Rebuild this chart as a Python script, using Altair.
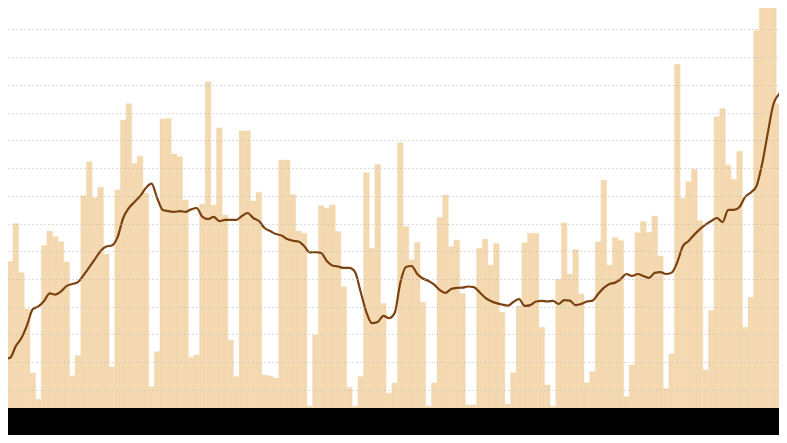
import altair as alt
import pandas as pd

# Daily values (one bar per day); gridlines every 10 units
daily = [
    90.7, 56.3, 70.0, 52.3, 39.2, 16.1, 6.6, 62.1, 67.2, 65.2,
    63.4, 56.2, 15.1, 22.4, 80.0, 92.3, 79.3, 83.1, 59.0, 18.3,
    82.1, 107.3, 113.2, 91.7, 94.3, 81.0, 11.2, 23.8, 107.7, 107.9,
    95.1, 94.1, 78.5, 21.8, 22.6, 77.0, 121.1, 76.7, 104.5, 73.1,
    28.0, 14.8, 103.4, 103.4, 78.1, 81.3, 15.4, 15.0, 14.3, 92.9,
    92.9, 80.5, 67.3, 66.5, 4.2, 29.8, 76.4, 75.6, 76.7, 67.1,
    47.2, 11.0, 4.2, 14.8, 88.3, 61.1, 91.3, 41.2, 8.8, 12.5,
    99.1, 68.9, 56.9, 63.2, 41.6, 4.2, 12.5, 72.2, 80.3, 61.6,
    64.1, 44.8, 4.6, 4.6, 61.1, 64.3, 55.0, 62.8, 37.9, 4.9,
    16.2, 40.3, 63.1, 66.5, 66.5, 32.6, 11.8, 4.2, 49.9, 70.2,
    51.8, 60.6, 44.6, 12.6, 16.6, 63.4, 85.7, 55.0, 65.0, 63.8,
    7.6, 19.0, 66.7, 70.7, 66.8, 72.7, 58.3, 10.6, 23.0, 127.4,
    79.1, 85.1, 89.5, 71.0, 17.2, 38.6, 108.5, 111.5, 91.1, 85.9,
    96.1, 32.6, 43.4, 139.5, 170.0, 166.0, 157.0, 113.1, 62.3,
]

# 7-day average line
average = [
    21.2, 21.6, 25.8, 28.7, 33.4, 39.1, 40.1, 42.1, 44.8, 44.4,
    45.5, 47.5, 48.2, 48.9, 51.4, 54.3, 57.2, 60.1, 61.7, 62.1,
    65.1, 72.0, 75.6, 77.8, 79.9, 82.8, 84.4, 79.2, 74.9, 74.5,
    74.2, 74.5, 74.2, 75.1, 75.6, 72.4, 71.6, 72.4, 70.9, 71.3,
    71.3, 71.3, 72.7, 73.8, 72.0, 70.9, 68.4, 67.3, 66.2, 65.7,
    64.4, 63.8, 63.5, 61.9, 59.6, 59.7, 59.4, 56.5, 54.9, 54.5,
    54.0, 54.0, 52.5, 45.3, 38.1, 34.1, 34.5, 36.7, 35.9, 37.7,
    48.6, 54.3, 54.7, 51.8, 50.2, 49.3, 48.0, 46.0, 45.0, 46.4,
    46.8, 46.9, 47.3, 47.1, 45.3, 43.3, 42.1, 41.3, 40.8, 40.4,
    41.7, 42.8, 40.3, 40.6, 41.9, 42.1, 41.9, 42.1, 41.0, 42.4,
    42.2, 40.6, 41.0, 41.9, 42.2, 44.6, 46.8, 48.2, 48.7, 50.0,
    51.8, 51.1, 51.8, 51.1, 50.4, 52.2, 52.5, 51.8, 52.3, 56.1,
    61.9, 63.7, 66.0, 68.0, 69.6, 70.9, 72.0, 70.5, 74.9, 74.9,
    76.0, 79.6, 81.2, 83.5, 91.5, 102.6, 113.1, 116.7, 119.5,
]

grid_values = [10, 20, 30, 40, 50, 60, 70, 80, 90, 100, 110, 120, 130, 140]

df = pd.DataFrame({"day": list(range(len(daily))), "cases": daily, "avg": average})

xs = alt.Scale(domain=[1.123, 137.485], nice=False, zero=False)
ys = alt.Scale(domain=[3.5, 147.7], nice=False, zero=False)
yaxis = alt.Axis(
    values=grid_values, grid=True, labels=False, ticks=False, domain=False,
    title=None, gridDash=[1, 3], gridColor="#b8b8b8", gridWidth=1, zindex=1,
)

base = alt.Chart(df)

bars = base.transform_calculate(day_end="datum.day + 1").mark_bar(
    color="#f3d8b0", clip=True, stroke="#f3d8b0", strokeWidth=0.4
).encode(
    x=alt.X("day:Q", scale=xs, axis=None),
    x2="day_end:Q",
    y=alt.Y("cases:Q", scale=ys, axis=yaxis),
    y2=alt.datum(0),
)

line = base.transform_calculate(mid="datum.day + 0.5").mark_line(
    color="#7a4210", strokeWidth=2.2, interpolate="monotone", clip=True
).encode(
    x=alt.X("mid:Q", scale=xs, axis=None),
    y=alt.Y("avg:Q", scale=ys, axis=yaxis),
)

chart = alt.layer(bars, line).properties(
    width=771,
    height=400,
    autosize=alt.AutoSizeParams(type="none"),
    padding={"left": 0, "top": 0, "right": 0, "bottom": 27},
    background="black",
).configure_view(fill="white", stroke=None)

chart.save("out.html", embed_options={"renderer": "svg", "actions": False})
